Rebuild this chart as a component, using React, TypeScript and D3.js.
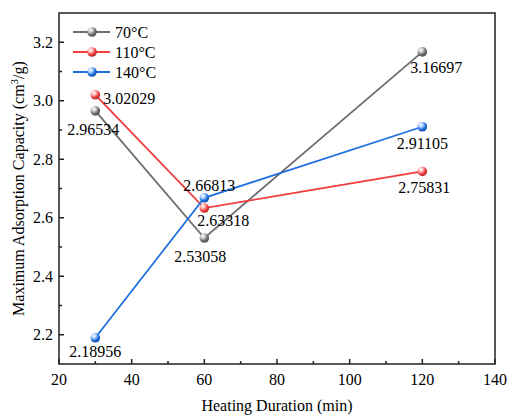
import React from "react";
import * as d3 from "d3";

// heating duration (min)
const durations = [30, 60, 120];
const temps = ["70°C", "110°C", "140°C"];
const values70 = [2.96534, 2.53058, 3.16697];
const values110 = [3.02029, 2.63318, 2.75831];
const values140 = [2.18956, 2.66813, 2.91105];
const xTicks = [20, 40, 60, 80, 100, 120, 140];
const yTicks = [2.2, 2.4, 2.6, 2.8, 3.0, 3.2];

const colors = ["#6e6e6e", "#f03c3c", "#1f6fe0"];
const lightColors = ["#d0d0d0", "#ffc0c0", "#b8d4ff"];

// label offsets (dx, dy, anchor) per series per point
const labelOffsets = [
  [[-2, 24, "middle"], [-4, 24, "middle"], [14, 21, "middle"]],
  [[8, 9, "start"], [-7, 18, "start"], [2, 22, "middle"]],
  [[0, 19, "middle"], [5, -7, "middle"], [0, 22, "middle"]],
];

const width = 509;
const height = 416;
const margin = { top: 13, right: 14, bottom: 52, left: 59 };
const font = "'Liberation Serif', 'Times New Roman', serif";

export default function App() {
  const series = [values70, values110, values140];
  const x = d3.scaleLinear().domain([20, 140]).range([margin.left, width - margin.right]);
  const y = d3.scaleLinear().domain([2.1, 3.3]).range([height - margin.bottom, margin.top]);
  const line = d3
    .line<number>()
    .x((_, i) => x(durations[i]))
    .y((d) => y(d));

  const xMinor = d3.range(30, 140, 20);
  const yMinor = d3.range(2.3, 3.3, 0.2);
  const bottom = height - margin.bottom;

  return (
    <svg width={width} height={height} style={{ position: "absolute", left: 0, top: 0 }}>
      <defs>
        {colors.map((c, i) => (
          <radialGradient key={i} id={`ball${i}`} cx="0.35" cy="0.3" r="0.7">
            <stop offset="0" stopColor="#ffffff" />
            <stop offset="0.3" stopColor={lightColors[i]} />
            <stop offset="0.7" stopColor={c} />
            <stop offset="1" stopColor={d3.color(c)!.darker(0.8).toString()} />
          </radialGradient>
        ))}
      </defs>
      <rect width={width} height={height} fill="#fff" />

      {/* ticks */}
      {xTicks.map((t) => (
        <g key={`xt${t}`}>
          <line x1={x(t)} x2={x(t)} y1={bottom} y2={bottom - 5} stroke="#222" strokeWidth={1.5} />
          <text x={x(t)} y={bottom + 21} textAnchor="middle" fontFamily={font} fontSize={16}>
            {t}
          </text>
        </g>
      ))}
      {xMinor.map((t) => (
        <line key={`xm${t}`} x1={x(t)} x2={x(t)} y1={bottom} y2={bottom - 3} stroke="#222" strokeWidth={1.5} />
      ))}
      {yTicks.map((t) => (
        <g key={`yt${t}`}>
          <line x1={margin.left} x2={margin.left + 5} y1={y(t)} y2={y(t)} stroke="#222" strokeWidth={1.5} />
          <text x={margin.left - 6} y={y(t) + 5.5} textAnchor="end" fontFamily={font} fontSize={16}>
            {t.toFixed(1)}
          </text>
        </g>
      ))}
      {yMinor.map((t) => (
        <line key={`ym${t}`} x1={margin.left} x2={margin.left + 3} y1={y(t)} y2={y(t)} stroke="#222" strokeWidth={1.5} />
      ))}

      {/* series */}
      {series.map((vals, si) => (
        <g key={`s${si}`}>
          <path d={line(vals)!} fill="none" stroke={colors[si]} strokeWidth={1.8} />
          {vals.map((v, i) => (
            <circle key={i} cx={x(durations[i])} cy={y(v)} r={4.8} fill={`url(#ball${si})`} />
          ))}
          {vals.map((v, i) => {
            const [dx, dy, anchor] = labelOffsets[si][i] as [number, number, string];
            return (
              <text
                key={`l${i}`}
                x={x(durations[i]) + dx}
                y={y(v) + dy}
                textAnchor={anchor as any}
                fontFamily={font}
                fontSize={16}
              >
                {v.toFixed(5)}
              </text>
            );
          })}
        </g>
      ))}

      {/* legend */}
      {temps.map((t, i) => (
        <g key={`lg${i}`} transform={`translate(73, ${32 + i * 20})`}>
          <line x1={0} x2={37} y1={0} y2={0} stroke={colors[i]} strokeWidth={1.8} />
          <circle cx={19} cy={0} r={4.8} fill={`url(#ball${i})`} />
          <text x={42} y={5.5} fontFamily={font} fontSize={16}>
            {t}
          </text>
        </g>
      ))}

      {/* frame */}
      <rect
        x={margin.left}
        y={margin.top}
        width={width - margin.left - margin.right}
        height={height - margin.top - margin.bottom}
        fill="none"
        stroke="#222"
        strokeWidth={1.5}
      />

      {/* axis titles */}
      <text x={(margin.left + width - margin.right) / 2} y={411} textAnchor="middle" fontFamily={font} fontSize={16}>
        Heating Duration (min)
      </text>
      <text
        transform={`translate(24, ${(margin.top + bottom) / 2}) rotate(-90)`}
        textAnchor="middle"
        fontFamily={font}
        fontSize={16}
      >
        Maximum Adsorption Capacity (cm<tspan dy={-6} fontSize={11}>3</tspan>
        <tspan dy={6}>/g)</tspan>
      </text>
    </svg>
  );
}
